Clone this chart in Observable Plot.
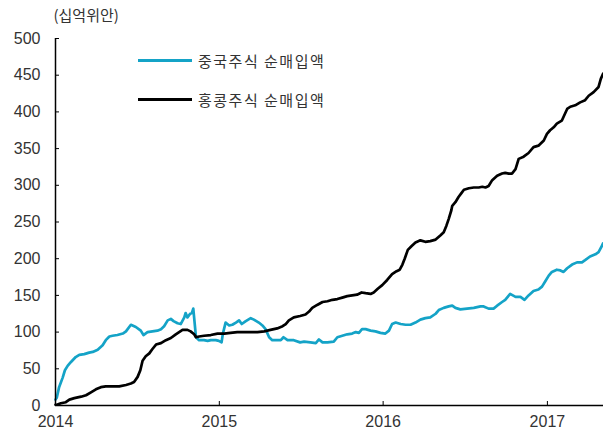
<!DOCTYPE html>
<html><head><meta charset="utf-8">
<script src="https://cdn.jsdelivr.net/npm/d3@7"></script>
<script src="https://cdn.jsdelivr.net/npm/@observablehq/plot@0.6"></script>
<style>
body{margin:0;background:#fff;}
#wrap{position:relative;width:603px;height:432px;font-family:"Noto Sans CJK KR",sans-serif;}
.legend{position:absolute;left:138px;top:49px;font-size:15px;color:#333;}
.row{display:flex;align-items:center;height:22px;margin-bottom:17px;white-space:nowrap;letter-spacing:1.5px;}
.sw{width:54px;height:3px;margin-right:6px;}
</style></head><body><div id="wrap"></div>
<script>
const unitLabel = "(십억위안)";
const seriesNames = ["중국주식 순매입액", "홍콩주식 순매입액"];
const seriesColors = ["#14a3c7", "#000000"];
const yTicks = [0, 50, 100, 150, 200, 250, 300, 350, 400, 450, 500];
const xTickYears = ["2014", "2015", "2016", "2017"];

const cnDates = ["2014-01-01","2014-01-04","2014-01-09","2014-01-17","2014-01-22","2014-01-28","2014-02-04","2014-02-15","2014-02-23","2014-03-06","2014-03-17","2014-03-25","2014-04-05","2014-04-16","2014-04-23","2014-05-01","2014-05-08","2014-05-19","2014-05-31","2014-06-07","2014-06-18","2014-06-29","2014-07-10","2014-07-16","2014-07-25","2014-08-05","2014-08-16","2014-08-24","2014-08-31","2014-09-08","2014-09-15","2014-09-21","2014-09-30","2014-10-07","2014-10-15","2014-10-18","2014-10-22","2014-10-28","2014-11-01","2014-11-04","2014-11-10","2014-11-17","2014-11-28","2014-12-06","2014-12-13","2014-12-24","2014-12-31","2015-01-06","2015-01-09","2015-01-15","2015-01-23","2015-01-30","2015-02-07","2015-02-14","2015-02-20","2015-03-01","2015-03-12","2015-03-19","2015-03-30","2015-04-07","2015-04-14","2015-04-22","2015-04-29","2015-05-10","2015-05-18","2015-05-24","2015-06-02","2015-06-16","2015-06-30","2015-07-09","2015-07-23","2015-08-04","2015-08-11","2015-08-19","2015-08-30","2015-09-13","2015-09-21","2015-10-02","2015-10-13","2015-10-24","2015-11-01","2015-11-08","2015-11-15","2015-11-23","2015-12-04","2015-12-15","2015-12-26","2016-01-06","2016-01-14","2016-01-21","2016-01-29","2016-02-09","2016-02-20","2016-03-02","2016-03-13","2016-03-24","2016-04-04","2016-04-15","2016-04-27","2016-05-04","2016-05-15","2016-05-26","2016-06-03","2016-06-10","2016-06-21","2016-07-06","2016-07-21","2016-08-05","2016-08-12","2016-08-23","2016-09-03","2016-09-11","2016-09-22","2016-09-29","2016-10-10","2016-10-22","2016-11-02","2016-11-11","2016-11-20","2016-12-01","2016-12-12","2016-12-20","2016-12-27","2017-01-04","2017-01-11","2017-01-22","2017-01-30","2017-02-06","2017-02-14","2017-02-25","2017-03-08","2017-03-19","2017-03-26","2017-04-06","2017-04-18","2017-04-25","2017-05-03","2017-05-05"];
const cnValues = [8,11,25,38,48,54,59,66,69,70,72,73,76,82,89,94,95,96,98,101,110,107,102,96,100,101,102,104,108,116,118,115,112,111,120,126,120,125,126,132,93,89,89,88,89,89,88,86,98,113,109,110,113,116,111,115,119,117,113,109,104,93,89,89,89,93,89,89,86,87,86,85,90,86,86,87,93,95,97,98,100,99,104,104,102,101,99,98,102,111,113,111,110,110,113,117,119,120,125,130,133,135,136,133,131,132,133,135,135,132,132,136,141,144,152,148,148,144,150,156,158,162,169,177,182,185,184,182,187,192,195,195,198,203,206,209,218,221];

const hkDates = ["2014-01-01","2014-01-04","2014-01-13","2014-01-24","2014-02-01","2014-02-12","2014-02-27","2014-03-10","2014-03-21","2014-04-01","2014-04-12","2014-04-23","2014-05-08","2014-05-23","2014-06-07","2014-06-18","2014-06-25","2014-07-03","2014-07-09","2014-07-14","2014-07-21","2014-07-29","2014-08-05","2014-08-13","2014-08-24","2014-09-04","2014-09-15","2014-09-26","2014-10-06","2014-10-11","2014-10-22","2014-10-29","2014-11-06","2014-11-10","2014-11-17","2014-11-28","2014-12-13","2014-12-28","2015-01-12","2015-01-26","2015-02-10","2015-02-25","2015-03-12","2015-03-27","2015-04-11","2015-04-25","2015-05-10","2015-05-22","2015-05-29","2015-06-05","2015-06-16","2015-06-30","2015-07-12","2015-07-20","2015-07-27","2015-08-07","2015-08-19","2015-08-30","2015-09-10","2015-09-21","2015-10-02","2015-10-13","2015-10-24","2015-11-04","2015-11-14","2015-11-23","2015-12-04","2015-12-11","2015-12-20","2015-12-30","2016-01-10","2016-01-21","2016-01-31","2016-02-07","2016-02-13","2016-02-18","2016-02-25","2016-03-04","2016-03-13","2016-03-24","2016-04-04","2016-04-15","2016-04-27","2016-05-08","2016-05-15","2016-05-21","2016-05-26","2016-06-01","2016-06-03","2016-06-10","2016-06-17","2016-06-23","2016-06-29","2016-07-10","2016-07-21","2016-08-01","2016-08-09","2016-08-16","2016-08-23","2016-08-31","2016-09-11","2016-09-22","2016-09-29","2016-10-07","2016-10-14","2016-10-22","2016-10-29","2016-11-09","2016-11-20","2016-12-01","2016-12-12","2016-12-24","2016-12-31","2017-01-07","2017-01-15","2017-01-22","2017-02-02","2017-02-14","2017-02-21","2017-03-04","2017-03-15","2017-03-26","2017-04-03","2017-04-14","2017-04-25","2017-04-30","2017-05-05"];
const hkValues = [1,1,3,4.5,8,10,12,14,18,22,25,26,26,26,28,30,32,39,48,61,67,71,77,83,85,89,92,97,101,103,103,101,97,93,94,95,96,98,98,99,100,100,100,100,101,103,105,108,111,116,120,122,124,128,133,137,141,142,144,145,147,149,150,151,154,153,152,154,159,164,171,179,183,185,192,200,212,217,222,225,223,224,226,232,236,245,254,266,272,277,284,289,294,296,297,297,298,297,299,307,313,316,317,316,316,322,336,339,344,352,354,361,370,375,379,384,388,404,407,409,413,416,422,427,434,445,452];

const parse = d3.utcParse("%Y-%m-%d");
const rows = [
  ...cnDates.map((d, i) => ({date: parse(d), value: cnValues[i], series: seriesNames[0]})),
  ...hkDates.map((d, i) => ({date: parse(d), value: hkValues[i], series: seriesNames[1]}))
];
const xTicks = xTickYears.map(y => parse(y + "-01-01"));

const chart = Plot.plot({
  width: 603,
  height: 432,
  marginLeft: 55,
  marginRight: 0,
  marginTop: 38,
  marginBottom: 27,
  style: {fontFamily: "'Liberation Sans', Arial, sans-serif", fontSize: "16px", color: "#333", background: "#fff", overflow: "visible"},
  x: {type: "utc", domain: [parse("2014-01-01"), parse("2017-05-06")]},
  y: {domain: [0, 500]},
  color: {domain: seriesNames, range: seriesColors},
  marks: [
    Plot.axisY({ticks: yTicks, tickSize: -4, tickPadding: 19, label: null, stroke: "#000", strokeWidth: 1}),
    Plot.axisX({ticks: xTicks, tickFormat: d3.utcFormat("%Y"), tickSize: -4, tickPadding: 14, label: null, stroke: "#000", strokeWidth: 1}),
    Plot.line(rows, {x: "date", y: "value", z: "series", stroke: "series", strokeWidth: 2.7, curve: "linear"}),
    Plot.ruleY([0], {stroke: "#000", strokeWidth: 1.5}),
    Plot.ruleX([parse("2014-01-01")], {stroke: "#000", strokeWidth: 1.5}),
    Plot.text([unitLabel], {text: d => d, frameAnchor: "top-left", dx: -2, dy: -22, textAnchor: "start", lineAnchor: "middle", fontFamily: "'Noto Sans CJK KR', sans-serif", fontSize: 15, fill: "#333", letterSpacing: 0.5})
  ]
});

const wrap = document.getElementById("wrap");
wrap.appendChild(chart);
const legend = document.createElement("div");
legend.className = "legend";
seriesNames.forEach((name, i) => {
  const row = document.createElement("div");
  row.className = "row";
  const sw = document.createElement("span");
  sw.className = "sw";
  sw.style.background = seriesColors[i];
  const t = document.createElement("span");
  t.textContent = name;
  row.appendChild(sw); row.appendChild(t);
  legend.appendChild(row);
});
wrap.appendChild(legend);
</script></body></html>
